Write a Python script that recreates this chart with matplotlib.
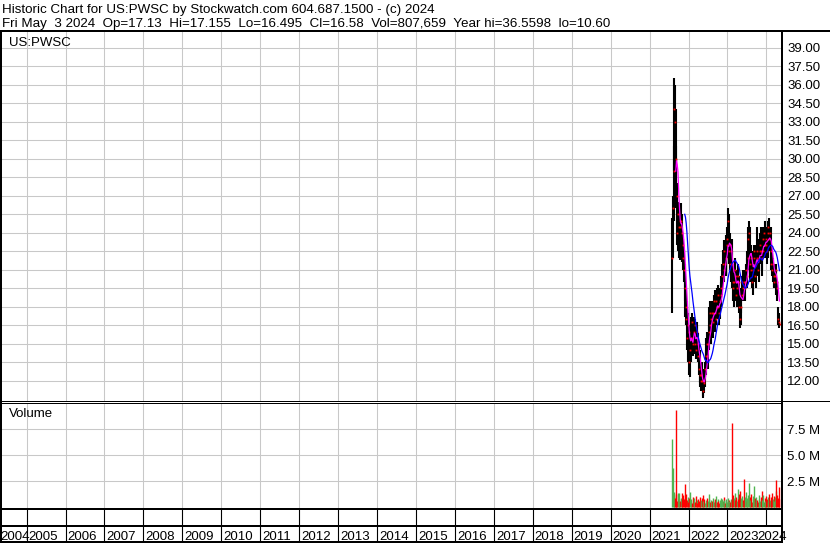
import numpy as np
import pandas as pd
import matplotlib
matplotlib.use("Agg")
import matplotlib.pyplot as plt
import matplotlib.dates as mdates
import matplotlib.transforms as mtrans
from matplotlib.lines import Line2D
from matplotlib.ticker import FuncFormatter

plt.rcParams['font.family'] = ['Liberation Sans', 'DejaVu Sans']

W, H = 830, 543

# weekly bars, US:PWSC (Jul 2021 - May 2024)
weeks = pd.date_range('2021-07-30', periods=145, freq='W-FRI')

high = [25.2, 27.0, 31.0, 36.56, 36.0, 34.0, 31.0, 28.0, 26.5, 26.4,
        26.0, 25.5, 26.4, 25.5, 24.5, 23.5, 22.6, 21.5, 20.5, 19.5,
        18.5, 17.0, 17.5, 16.5, 15.0, 16.0, 17.2, 17.5, 16.5, 16.5,
        17.2, 17.0, 16.0, 16.5, 16.8, 15.9, 15.0, 14.5, 13.5, 13.0,
        13.5, 12.8, 12.5, 13.0, 13.5, 14.5, 15.5, 16.0, 15.5, 16.5,
        18.0, 18.5, 17.5, 18.0, 18.5, 18.0, 19.0, 19.4, 18.5, 19.0,
        19.5, 19.8, 19.5, 19.0, 19.5, 20.0, 20.5, 21.5, 22.6, 22.5,
        23.4, 23.0, 23.0, 23.8, 24.5, 26.0, 25.5, 24.0, 24.0, 23.0,
        23.5, 22.5, 21.0, 20.5, 21.5, 22.0, 21.0, 20.0, 21.0, 21.5,
        20.5, 19.0, 18.5, 19.5, 20.5, 21.0, 20.5, 21.0, 20.5, 21.5,
        22.0, 22.5, 24.5, 25.0, 24.5, 22.5, 23.0, 22.0, 21.5, 22.5,
        23.0, 22.5, 22.0, 23.0, 24.5, 23.5, 22.5, 23.5, 24.0, 24.5,
        23.5, 23.0, 24.5, 24.5, 25.0, 24.0, 24.5, 24.0, 24.5, 25.0,
        25.2, 24.5, 24.5, 23.0, 22.5, 22.0, 21.5, 21.0, 21.5, 21.5,
        21.0, 20.0, 18.0, 17.5, 17.155]

low = [17.5, 22.0, 25.0, 29.0, 31.5, 28.5, 26.0, 23.0, 22.5, 23.0,
       22.0, 21.8, 23.0, 22.5, 21.6, 21.0, 20.0, 18.5, 17.2, 16.5,
       14.5, 13.5, 15.0, 12.5, 12.3, 13.5, 14.5, 15.0, 14.0, 14.2,
       15.0, 14.5, 13.8, 14.0, 14.5, 13.5, 12.5, 11.8, 11.5, 11.2,
       11.5, 10.6, 10.8, 11.0, 11.5, 12.5, 13.5, 13.0, 13.0, 14.5,
       15.0, 16.0, 15.0, 16.0, 16.0, 15.5, 16.5, 17.0, 16.0, 16.5,
       17.0, 17.5, 17.0, 16.5, 17.0, 18.0, 18.5, 19.0, 20.0, 20.0,
       21.0, 20.5, 20.5, 21.5, 22.0, 22.5, 22.0, 21.5, 21.0, 20.0,
       21.0, 19.5, 18.5, 18.0, 19.0, 20.0, 18.5, 18.0, 19.0, 19.5,
       17.5, 16.3, 16.5, 17.5, 18.5, 19.0, 18.5, 19.0, 18.5, 19.5,
       20.0, 19.5, 21.0, 22.0, 21.0, 20.0, 20.5, 19.5, 19.0, 20.0,
       21.0, 20.0, 19.5, 20.5, 21.5, 20.5, 20.0, 21.0, 21.5, 22.0,
       21.0, 20.5, 22.0, 22.5, 22.5, 22.0, 22.5, 21.5, 22.0, 23.0,
       23.0, 22.5, 22.0, 21.0, 20.5, 20.0, 19.6, 19.5, 19.5, 19.5,
       19.0, 18.5, 16.5, 16.3, 16.495]

close = [22.0, 26.0, 29.0, 34.0, 33.0, 30.0, 27.0, 24.0, 25.5, 24.5,
         25.0, 24.5, 25.0, 24.0, 23.0, 22.0, 21.0, 19.5, 18.0, 17.0,
         15.5, 16.5, 16.0, 13.5, 14.5, 15.5, 16.8, 15.5, 15.0, 16.0,
         16.5, 15.0, 14.5, 16.0, 15.0, 14.0, 13.0, 12.5, 12.0, 12.5,
         12.0, 11.2, 12.0, 11.8, 13.0, 14.0, 15.0, 14.0, 15.0, 16.0,
         17.5, 16.5, 17.0, 17.5, 16.8, 17.5, 18.5, 17.5, 17.0, 18.5,
         18.0, 19.0, 18.0, 17.5, 18.5, 19.0, 19.5, 20.5, 21.5, 21.0,
         22.5, 21.5, 22.0, 23.0, 23.5, 25.0, 22.5, 23.0, 21.5, 22.5,
         21.5, 20.0, 19.5, 20.0, 21.0, 20.5, 19.0, 19.5, 20.5, 20.0,
         18.0, 17.0, 18.0, 19.0, 20.0, 19.5, 20.0, 19.5, 20.0, 21.0,
         20.5, 22.0, 23.5, 24.0, 21.5, 22.0, 21.0, 20.0, 21.0, 22.0,
         22.5, 20.5, 21.5, 22.5, 22.0, 21.0, 22.0, 22.5, 23.0, 22.5,
         22.0, 22.5, 23.5, 24.0, 23.0, 23.5, 23.0, 22.5, 24.0, 24.5,
         23.5, 24.0, 22.5, 21.5, 21.0, 21.5, 20.0, 20.5, 20.5, 21.0,
         20.0, 19.5, 17.0, 16.8, 16.58]

# millions of shares
volume = [6.6, 3.8, 1.1, 1.5, 0.9, 9.3, 1.3, 0.6, 1.4, 0.8,
          1.4, 0.6, 0.9, 1.4, 0.5, 1.2, 0.8, 2.2, 0.9, 1.3,
          0.7, 1.0, 0.5, 0.9, 1.5, 0.6, 0.8, 0.4, 1.0, 0.6,
          0.9, 0.5, 1.1, 0.7, 0.4, 0.8, 0.6, 1.0, 0.5, 0.7,
          0.9, 1.2, 0.6, 0.8, 0.4, 0.7, 0.5, 0.9, 0.6, 1.3,
          0.8, 0.5, 0.7, 0.4, 0.6, 0.9, 0.5, 0.8, 0.7, 1.1,
          0.5, 0.8, 0.6, 0.4, 0.7, 0.9, 0.5, 0.8, 0.6, 1.0,
          0.7, 0.4, 0.8, 0.6, 0.5, 0.9, 0.7, 0.6, 0.5, 0.8,
          0.7, 8.1, 1.2, 0.9, 1.4, 0.7, 1.0, 0.6, 1.8, 0.8,
          1.3, 1.6, 0.9, 0.6, 1.1, 0.7, 0.5, 2.7, 1.0, 1.5,
          0.6, 0.9, 1.2, 2.3, 1.0, 0.7, 1.3, 0.5, 0.8, 1.1,
          2.1, 0.9, 0.6, 1.0, 0.7, 0.5, 1.2, 0.8, 0.6, 1.0,
          1.6, 0.7, 1.2, 0.5, 0.9, 0.6, 1.1, 0.8, 0.5, 1.0,
          1.3, 0.7, 1.0, 0.6, 1.4, 0.8, 1.1, 0.6, 1.0, 1.6,
          2.6, 1.2, 0.9, 2.0, 0.8]

years = list(range(2004, 2025))
price_ticks = np.arange(12.0, 39.01, 1.5)
vol_ticks = [2.5, 5.0, 7.5]

title1 = "Historic Chart for US:PWSC by Stockwatch.com 604.687.1500 - (c) 2024"
title2 = ("Fri May  3 2024  Op=17.13  Hi=17.155  Lo=16.495  Cl=16.58  "
          "Vol=807,659  Year hi=36.5598  lo=10.60")


def box(x0, y0, x1, y1):
    # pixel box (top-left origin) -> figure fraction rect
    return [x0 / W, 1 - y1 / H, (x1 - x0) / W, (y1 - y0) / H]


def fline(fig, xs, ys, lw):
    fig.add_artist(Line2D([x / W for x in xs], [1 - y / H for y in ys],
                          color='black', lw=lw * 0.72, solid_capstyle='butt'))


fig = plt.figure(figsize=(W / 100, H / 100), dpi=100)
ax = fig.add_axes(box(1.5, 31, 781.5, 400.5))
axv = fig.add_axes(box(1.5, 402.5, 781.5, 508.5))
axs = fig.add_axes(box(1.5, 508.5, 781.5, 525.5))
axl = fig.add_axes(box(1.5, 525.5, 781.5, 542))

xd = mdates.date2num(weeks)
ystart = [mdates.date2num(pd.Timestamp(f'{y}-01-01')) for y in years]
xlim = (mdates.date2num(pd.Timestamp('2004-05-10')),
        mdates.date2num(pd.Timestamp('2024-05-22')))

for a in (ax, axv, axs, axl):
    a.set_xlim(*xlim)
    for s in a.spines.values():
        s.set_visible(False)
    a.set_xticks(ystart[1:])
    a.tick_params(axis='x', length=0, labelbottom=False)

for a in (ax, axv):
    a.grid(True, color='#c8c8c8', lw=0.75)
    a.set_axisbelow(True)
    a.yaxis.tick_right()
    a.tick_params(axis='y', length=0, pad=4, labelsize=9.5, colors='black')

# price panel
ax.vlines(xd, low, high, color='black', lw=1.5, zorder=2)
ax.plot(xd + 2, close, ls='none', marker='s', ms=1.3, mew=0, color='red', zorder=3)
ma_fast = pd.Series(close).rolling(6).mean()
ma_slow = pd.Series(close).rolling(18).mean()
ax.plot(xd, ma_fast, color='#ff00ff', lw=0.9, zorder=4)
ax.plot(xd, ma_slow, color='#0000ff', lw=0.9, zorder=4)
ax.set_ylim(10.42, 40.35)
ax.set_yticks(price_ticks)
ax.yaxis.set_major_formatter(FuncFormatter(lambda v, p: f"{v:.2f}"))

# volume panel
vcol = ['#50b450' if i == 0 or close[i] >= close[i - 1] else '#ff0000'
        for i in range(len(close))]
axv.vlines(xd, 0, volume, colors=vcol, lw=1.0, zorder=2)
axv.set_ylim(-0.1, 10.05)
axv.set_yticks(vol_ticks)
axv.yaxis.set_major_formatter(FuncFormatter(lambda v, p: f"{v:.1f} M"))

# year strip and labels
axs.set_ylim(0, 1)
axl.set_ylim(0, 1)
axs.set_yticks([])
axl.set_yticks([])
for xs_ in ystart[1:]:
    axs.axvline(xs_, color='black', lw=0.8)
for xs_ in ystart[1:-1]:
    axl.axvline(xs_, color='black', lw=0.8)

lab_tr = mtrans.offset_copy(axl.get_xaxis_transform(), fig=fig, x=2, units='dots')
for y, xs_ in zip(years[1:-1], ystart[1:-1]):
    axl.text(xs_, 0.13, str(y), transform=lab_tr, ha='left', va='baseline',
             fontsize=9.5)
axl.text(0.0, 0.13, str(years[0]),
         transform=mtrans.offset_copy(axl.transAxes, fig=fig, x=-1, units='dots'),
         ha='left', va='baseline', fontsize=9.5)
axl.text(1.0, 0.13, str(years[-1]),
         transform=mtrans.offset_copy(axl.transAxes, fig=fig, x=5, units='dots'),
         ha='right', va='baseline', fontsize=9.5, clip_on=False)

# frame lines
fline(fig, [0, W], [31, 31], 2)
fline(fig, [1, 1], [30, H], 2)
fline(fig, [781.7, 781.7], [30, H], 2)
fline(fig, [0, W], [400.5, 400.5], 1)
fline(fig, [0, 781.7], [402.5, 402.5], 1)
fline(fig, [0, 781.7], [509.2, 509.2], 2)
fline(fig, [0, 781.7], [525.8, 525.8], 2)
fline(fig, [0, 781.7], [542.2, 542.2], 2)

fig.text(2 / W, 1 - 13.5 / H, title1, fontsize=9.6, va='baseline', ha='left')
fig.text(2 / W, 1 - 26.8 / H, title2, fontsize=9.6, va='baseline', ha='left')
fig.text(9 / W, 1 - 45.8 / H, "US:PWSC", fontsize=9.5, va='baseline', ha='left')
fig.text(9 / W, 1 - 417 / H, "Volume", fontsize=9.5, va='baseline', ha='left')

fig.savefig('out.png', dpi=100)
